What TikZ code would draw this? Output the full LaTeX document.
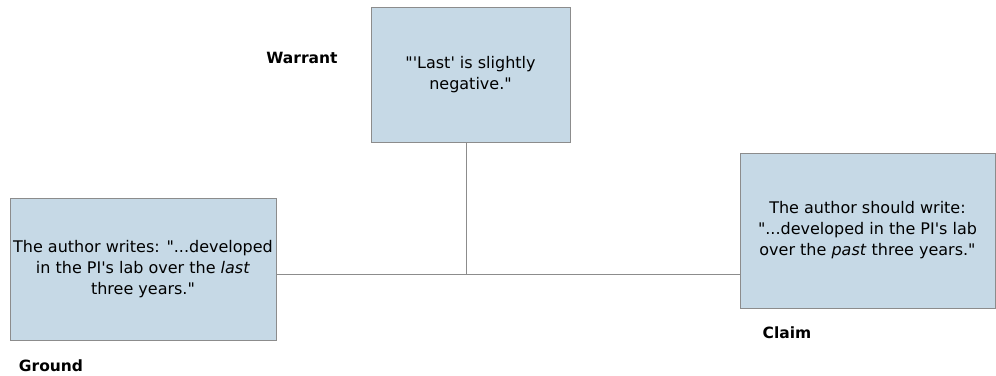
\documentclass[tikz,border=0pt]{standalone}
\usepackage{fontspec}
\setmainfont{DejaVu Sans}
\newcommand{\dq}{\textquotedbl}
\newcommand{\sq}{\textquotesingle}
\begin{document}
\begin{tikzpicture}[x=1pt,y=-1pt,
  argbox/.style={draw=boxline, fill=boxfill, line width=1pt, align=center,
    inner sep=0pt, font=\fontsize{16}{21}\selectfont},
  tag/.style={font=\fontsize{15.5}{18}\selectfont\bfseries, inner sep=0pt},
  link/.style={draw=linkgray, line width=1pt}]
\definecolor{boxfill}{RGB}{198,217,230}
\definecolor{boxline}{RGB}{140,140,140}
\definecolor{linkgray}{RGB}{140,140,140}
\useasboundingbox (0,0) rectangle (996,375);

\node[argbox, minimum width=266pt, minimum height=142pt] (ground) at (143,269)
  {The author writes: \dq...developed\\in the PI\sq s lab over the \textit{last}\\three years.\dq};
\node[argbox, minimum width=199pt, minimum height=135pt] (warrant) at (470.5,74.5)
  {\dq\sq Last\sq{} is slightly\\negative.\dq};
\node[argbox, minimum width=255pt, minimum height=155pt] (claim) at (867.5,230.5)
  {The author should write:\\\dq...developed in the PI\sq s lab\\over the \textit{past} three years.\dq};

\node[tag] (lwarrant) at (302,58) {Warrant};
\node[tag] (lground) at (51,366) {Ground};
\node[tag] (lclaim) at (787,333) {Claim};

\coordinate (joint) at (466,274);
\draw[link] (ground.east |- joint) -- (claim.west |- joint);
\draw[link] (warrant.south -| joint) -- (joint);
\end{tikzpicture}
\end{document}
